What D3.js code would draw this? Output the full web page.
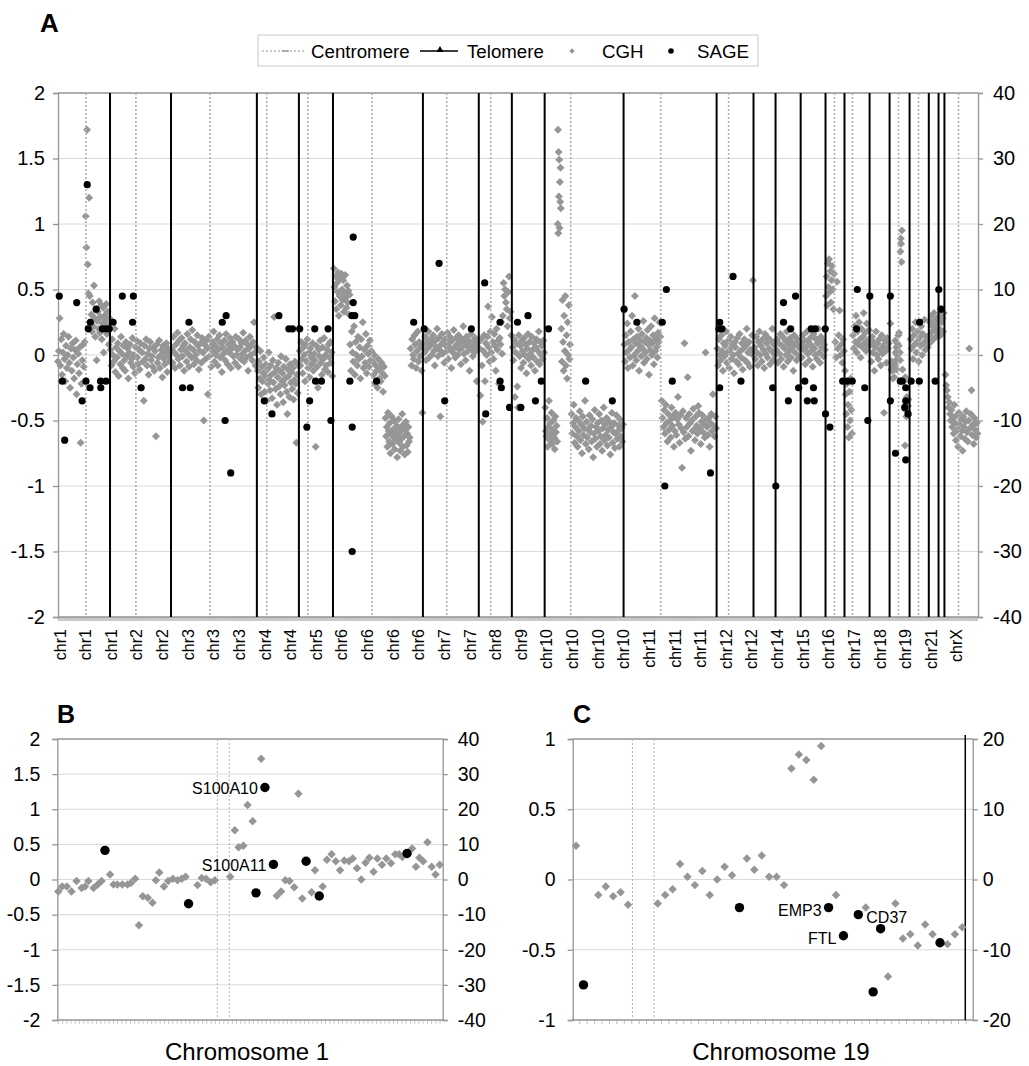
<!DOCTYPE html>
<html>
<head>
<meta charset="utf-8">
<script src="https://cdn.jsdelivr.net/npm/d3@7"></script>
<style>
  body { margin: 0; background: #fff; }
  svg { display: block; font-family: "Liberation Sans", Arial, sans-serif; }
</style>
</head>
<body>
<div id="chart"></div>
<script>
// ---------- panel A data (x = probe index along the genome) ----------
var tickLabels = ["chr1","chr1","chr1","chr2","chr2","chr3","chr3","chr3","chr4","chr4",
  "chr5","chr6","chr6","chr6","chr6","chr7","chr7","chr8","chr9","chr10",
  "chr10","chr10","chr10","chr11","chr11","chr11","chr12","chr12","chr14","chr15",
  "chr16","chr17","chr18","chr19","chr21","chrX"];
var tickEvery = 100;
var probeCount = 3590;

var centromeres = [109, 304, 593, 815, 975, 1225, 1517, 1689, 2001, 2352, 2617, 3030, 3100, 3280, 3358, 3514];
var telomeres = [203, 441, 776, 940, 1073, 1424, 1642, 1771, 1899, 2207, 2570, 2714, 2800, 2898, 2995, 3069, 3167, 3245, 3323, 3398, 3436, 3459];

// CGH log2 ratios, in hundredths, per stretch of probes [first, last, values]
var cghSegments = [
  [0, 104, "-5 3 28 -8 12 -15 2 16 -3 -20 7 -10 0 14 -6 -25 5 -12 9 -2 -18 4 11 -30 -7 1 -14 6 -67 -22 -4 8 -9 10"],
  [108, 124, "106 82 172 69 47 120 45"],
  [128, 201, "25 31 18 40 22 53 28 14 35 -4 26 33 20 41 17 29 38 12 24 36 2 30 21 27 39 16 33 23 8 28"],
  [205, 439, "4 -8 12 0 -5 20 -13 6 -2 9 -16 3 -7 14 1 -10 7 -4 -12 10 -1 5 -18 2 8 -6 -3 13 -9 0 -14 6 11 -2 -7 4 -11 9 -25 2 -5 -35 7 -3 12 -8 1 -15 5 10 -4 -1 -9 6 -12 3 -62 8 -6 -2 11 -10 0 4 -17 7 -3 -7 2 9 -13 5 -1 -5 3"],
  [444, 774, "5 -6 14 2 -10 8 0 17 -3 11 -8 4 13 -1 7 -12 9 3 -5 16 1 -9 6 12 -2 19 4 -7 10 0 -4 15 7 -11 3 9 -6 13 2 -50 8 -3 11 5 -30 14 -1 6 -9 10 3 18 -5 7 0 12 -8 4 15 -2 9 -13 6 1 11 -4 16 3 -7 8 2 13 -10 5 10 -1 7 -6 14 0 4 -9 12 6 -3 9 1 17 -5 3 11 -2 8 -12 5 14 0 7 -4 10 25 2 -8 6"],
  [779, 938, "-12 -25 -5 -18 3 -30 -9 -20 -14 -2 -28 -16 -7 -35 -11 -22 2 -19 -27 -8 -15 -33 -4 -21 29 -13 -26 -10 -38 -17 -6 -24 -12 -30 -1 -20 -14 -36 -9 -23 -18 -3 -28 -45 -11 -16 -32 -7 -21 -13 -26 -10 -34 -19 -5 -22 -67 -15 -29 -8"],
  [943, 1071, "3 -8 10 -3 -14 6 0 -20 8 -5 12 -10 2 -17 5 -2 -7 9 -12 1 -4 -70 7 -9 -25 4 -1 11 -6 -15 6 -3 13 -11 0 -8 4 -13 8 -2 10 -6 2 -16"],
  [1076, 1138, "66 52 41 60 35 55 48 63 30 45 58 38 62 50 42 57 33 47 61 44 36 53 40 49 31 46"],
  [1140, 1223, "8 -12 18 2 -5 22 -15 10 0 -8 14 -3 6 -18 12 -1 25 -10 4 -6 16 -14 7 1 -9 11 -4 3"],
  [1228, 1275, "-5 -15 0 -22 -8 -12 -25 -3 -18 -10 -20 -6 -14 -28 -9 -16"],
  [1278, 1372, "-48 -62 -55 -70 -44 -58 -66 -52 -75 -60 -47 -68 -57 -63 -50 -72 -59 -65 -54 -78 -61 -49 -67 -56 -73 -58 -64 -45 -70 -53 -62 -76 -57 -51 -69 -60 -74 -55 -66 -63"],
  [1376, 1422, "5 -8 12 0 -3 15 8 -10 3 18 -5 10 -1 6 -12 -44"],
  [1427, 1640, "8 2 14 -4 10 5 18 -2 7 12 0 9 15 3 -8 11 6 20 -1 13 4 -47 8 16 1 10 -6 12 7 3 17 -3 9 14 5 -10 11 2 19 6 -2 13 8 0 15 4 10 -7 12 6 22 1 9 -4 14 7 3 11 -12 8 16 5 -1 10 2 13 6 -20 9 4"],
  [1645, 1769, "5 -31 12 -8 -51 3 15 -20 9 0 14 37 6 -5 18 2 29 10 -3 16 7 -12 20 4 11 -22 13 8 25 1 30 55 45 50 40 35 22 48 60 28 33 15"],
  [1774, 1897, "6 -4 12 -32 2 9 -24 -40 15 -1 7 -10 11 3 -6 13 0 8 -14 5 16 -3 10 1 -8 14 4 -2 9 -12 6 12 -5 3 18 -7 10 0 7 -3 11 2"],
  [1901, 1948, "-40 -58 -62 -48 -70 -55 -35 -65 -52 -60 -44 -68 -57 -50 -63 -72 -47 -59 -54 -66"],
  [1950, 1962, "100 172 93 155 121 149 97 132 117 143 112"],
  [1964, 1998, "20 -5 42 10 -12 30 3 45 -8 15 -18 25 0 38 -3 8"],
  [2004, 2205, "-45 -60 -52 -38 -67 -55 -48 -62 -70 -50 -58 -43 -65 -53 -75 -47 -61 -56 -35 -68 -51 -63 -57 -72 -46 -59 -54 -66 -49 -78 -60 -42 -64 -55 -70 -52 -58 -45 -68 -62 -50 -73 -56 -40 -65 -53 -61 -48 -69 -57 -63 -51 -76 -55 -44 -67 -59 -52 -71 -60 -46 -64 -58 -54 -70 -49 -62 -56 -66 -53"],
  [2210, 2350, "8 -5 15 2 24 -10 10 4 -2 18 6 30 -8 12 0 45 9 -4 14 3 20 -12 7 11 -1 16 5 26 -6 10 2 13 -3 19 8 -15 11 4 22 0 9 15 -7 28 3 12 6 -2 17 10 25 14"],
  [2356, 2568, "-35 -48 -55 -42 -60 -38 -52 -66 -45 -57 -50 -63 -40 -54 -47 -70 -58 -44 -61 -49 -32 -53 -67 -46 -56 -86 -43 -59 9 -64 -48 -55 -17 -62 -45 -52 -73 -50 -58 -41 -57 -65 -47 -54 -60 -39 -44 -56 -68 -51 -46 -59 -53 -63 2 -49 -55 -61 -48 -70 -52 -45 -58 -30 -54 -62 -47 -56"],
  [2573, 2712, "5 -8 12 0 -4 15 3 -12 9 -1 7 18 -6 2 11 -10 4 14 -3 8 0 -14 10 6 -5 13 1 -7 16 3 -2 9 -11 5 12 -4 7 20 -6 2 10 -9 4 1 15 57"],
  [2718, 2797, "6 -3 14 2 -8 10 18 0 7 -5 12 4 -10 16 1 9 -2 13 5 -7 11 3 20 -4 8 0"],
  [2803, 2895, "4 12 -6 9 1 16 -3 7 14 -9 5 11 0 18 -5 8 3 13 -2 10 6 -12 15 2 9 -4 12 7 -1 5"],
  [2900, 2993, "8 -2 15 4 11 -7 6 18 1 10 -4 13 3 7 -9 16 5 0 12 -3 9 20 2 -6 14 6 11 -1 8 4"],
  [2997, 3028, "45 60 38 70 52 73 48 64 40 57 68 50 35 62"],
  [3033, 3067, "10 -2 56 5 15 34 0 8 -6 12 3"],
  [3071, 3098, "-12 -30 -45 -22 -55 -38 -63 -28 -50 -18 -42 -60"],
  [3102, 3165, "15 5 22 10 30 2 18 8 25 12 -2 20 6 14 32 9 17 3 24 11 7 19"],
  [3170, 3242, "8 -5 14 2 10 -12 6 18 0 9 -3 12 4 -8 15 1 7 -44 11 3 -6 13 5 9"],
  [3327, 3394, "12 5 20 -3 15 8 25 2 10 18 -5 13 7 22 0 16 9 27 4 11 14 6"],
  [3401, 3433, "15 25 10 30 18 22 12 32 20 27 14 24 17 28"],
  [3439, 3456, "20 30 15 35 25 28 18 32"],
  [3463, 3588, "-15 -23 -27 -32 -40 -36 -45 -50 -42 -55 -48 -60 -38 -52 -65 -46 -57 -70 -44 -53 -62 -49 -58 -73 -47 -55 -64 -51 -43 -59 -66 -50 5 -56 -45 -27 -61 -53 -68 -48 -57 -63 -52 -60"]
];
var chr19First = 3248, chr19Last = 3320;   // chromosome 19 in panel A uses the panel C probes

// SAGE values (right axis) as [probe index, value]
var sageA = [
  [5,9],[73,8],[114,26],[149,7],[118,4],[126,5],[173,4],[187,4],[200,4],[215,5],[251,9],[291,5],[294,9],
  [511,5],[641,5],[656,6],[862,6],[901,4],[915,4],[943,4],[1002,4],[1054,4],
  [17,-4],[26,-13],[94,-7],[109,-4],[125,-5],[167,-5],[166,-4],[187,-4],[324,-5],[486,-5],[516,-5],
  [652,-10],[674,-18],[805,-7],[835,-9],[971,-11],[982,-7],[1005,-4],[1028,-4],[1065,-10],
  [1152,18],[1152,8],[1147,6],[1158,6],[1388,5],[1429,4],[1487,14],[1613,4],[1665,11],[1725,5],
  [1793,5],[1834,6],[1914,4],[2209,7],[2259,5],[2358,5],[2374,10],
  [1139,-4],[1148,-11],[1148,-30],[1243,-4],[1509,-7],[1669,-9],[1725,-4],[1730,-5],[1762,-8],
  [1806,-8],[1863,-7],[1886,-4],[2059,-4],[2163,-7],[2368,-20],[2397,-4],
  [2582,5],[2579,4],[2591,4],[2634,12],[2831,8],[2831,5],[2859,4],[2878,9],[2939,4],[2955,4],
  [2994,4],[3119,10],[3116,4],[3168,9],[3248,9],[3362,5],[3437,10],[3446,7],
  [2582,-5],[2546,-18],[2665,-4],[2789,-5],[2801,-20],[2850,-7],[2890,-5],[2914,-4],[2924,-7],
  [2948,-5],[2951,-7],[2995,-9],[3012,-11],[3062,-4],[3080,-4],[3099,-4],[3148,-5],[3160,-10],
  [3248,-7],[3268,-15],[3287,-4],[3294,-4],[3308,-5],[3308,-7],[3304,-8],[3317,-9],[3308,-16],
  [3329,-4],[3361,-4],[3423,-4]
];

// ---------- panel B data (chromosome 1, x = probe position) ----------
var bCghX = [0,0.9,2,3.1,4.3,5.5,6.3,7.1,8.3,9.3,10.2,12.2,13,13.9,15.1,16.3,17.1,18.1,19,19.9,
  21.1,22.2,23,23.8,24.9,25.9,27,28.1,29.1,30,32.8,33.8,34.8,35.9,36.9,40.5,41.6,42.5,43.6,44.6,
  45.8,47.8,51.5,52.5,53.5,54.5,55.6,56.6,57.5,59.7,60.5,62.3,63.3,64.4,65.4,66.4,67.4,68.5,69.4,70.4,
  71.4,72.4,73.3,74.3,75.2,76.3,77.3,78.4,79.4,80.3,81.1,83.4,84.3,85.1,86,87,88,88.9,89.9];
var bCgh = [-0.17,-0.1,-0.1,-0.17,-0.02,-0.12,-0.1,-0.02,-0.12,-0.07,-0.02,0.07,-0.07,-0.07,-0.07,-0.07,-0.05,0.01,-0.65,-0.24,
  -0.26,-0.33,-0.01,0.1,-0.1,-0.02,0.01,-0.01,0.01,0.04,-0.08,0.02,0.01,-0.04,-0.01,0.04,0.7,0.46,0.48,1.06,
  0.83,1.72,-0.23,-0.17,-0.01,-0.02,-0.11,1.22,-0.27,-0.18,0.13,-0.1,0.28,0.36,0.26,0.13,0.27,0.26,0.3,0.16,
  0,0.24,0.31,0.11,0.3,0.21,0.3,0.23,0.36,0.36,0.32,0.44,0.18,0.31,0.26,0.53,0.18,0.07,0.21];
var bSageX = [11, 30.7, 46.6, 48.7, 50.7, 58.4, 61.5, 82.2];
var bSage = [8.3, -6.9, -3.8, 26.2, 4.3, 5.2, -4.7, 7.4];
var bGenes = [[48.7, 26.2, "S100A10"], [50.7, 4.3, "S100A11"]];
var bCentromeres = [37.5, 40.3];

// ---------- panel C data (chromosome 19, x = probe number) ----------
var cCghX = [0,3,4,5,6,7,11,12,13,14,15,16,17,18,19,20,21,23,24,25,26,27,28,29,30,31,32,33,35,39,42,43,44,45,46,47,48,50,51,52];
var cCgh = [0.24,-0.11,-0.05,-0.12,-0.09,-0.18,-0.17,-0.11,-0.07,0.11,0.02,-0.04,0.06,-0.11,0,0.09,0.03,0.15,0.07,0.17,
  0.02,0.02,-0.04,0.79,0.89,0.85,0.71,0.95,-0.11,-0.2,-0.69,-0.17,-0.42,-0.39,-0.47,-0.32,-0.39,-0.46,-0.39,-0.34];
var cSageX = [1, 22, 34, 36, 38, 40, 41, 49];
var cSage = [-15, -4, -4, -8, -5, -16, -7, -9];
var cGenes = [[34, -4, "EMP3", "left"], [36, -8, "FTL", "left"], [38, -5, "CD37", "right"]];
var cCentromeres = [7.6, 10.5];
var cTelomeres = [52.4];
var cProbeCount = 54;

// ---------- drawing ----------
var svg = d3.select("#chart").append("svg")
  .attr("width", 1029)
  .attr("height", 1066);

var gridColor = "#d9d9d9", axisColor = "#959595", cghColor = "#969696";
var diamond = function(size) { return d3.symbol().type(d3.symbolSquare).size(size)(); };
var fmt = function(d) { return String(+d.toFixed(1)); };

function styleAxis(g, fontSize) {
  g.select(".domain").attr("stroke", axisColor).attr("stroke-width", 1.3);
  g.selectAll(".tick line").attr("stroke", axisColor).attr("stroke-width", 1.3);
  g.selectAll(".tick text").attr("fill", "#000").style("font-size", fontSize + "px")
    .style("font-family", "Liberation Sans, Arial, sans-serif");
}

// generic frame: grid, left/right axes, top border, bottom line with probe ticks
function frame(g, x, y, y2, opt) {
  var x0 = x.range()[0], x1 = x.range()[1];
  g.append("g").selectAll("line")
    .data(opt.grid).enter().append("line")
    .attr("x1", x0).attr("x2", x1)
    .attr("y1", d => y(d)).attr("y2", d => y(d))
    .attr("stroke", gridColor).attr("stroke-width", 1);

  g.append("line").attr("x1", x0).attr("x2", x1)
    .attr("y1", y.range()[1]).attr("y2", y.range()[1])
    .attr("stroke", axisColor).attr("stroke-width", 1.3);

  // probe tick marks along the bottom
  var p = d3.path();
  opt.probeTicks.forEach(function(t) {
    p.moveTo(x(t), y.range()[0]);
    p.lineTo(x(t), y.range()[0] + 4);
  });
  g.append("path").attr("d", p.toString())
    .attr("stroke", opt.probeTickColor).attr("stroke-width", opt.probeTickWidth).attr("fill", "none");

  g.append("line").attr("x1", x0).attr("x2", x1)
    .attr("y1", y.range()[0]).attr("y2", y.range()[0])
    .attr("stroke", axisColor).attr("stroke-width", 1.3);

  g.append("g").attr("transform", `translate(${x0},0)`)
    .call(d3.axisLeft(y).tickValues(opt.leftTicks).tickSize(5).tickPadding(opt.padL).tickFormat(fmt))
    .call(styleAxis, opt.fontSize);

  g.append("g").attr("transform", `translate(${x1},0)`)
    .call(d3.axisRight(y2).tickValues(opt.rightTicks).tickSize(5).tickPadding(opt.padR).tickFormat(fmt))
    .call(styleAxis, opt.fontSize);
}

function vlines(g, x, y, data, kind, extraTop) {
  var isTelo = kind === "telo";
  g.append("g").selectAll("line")
    .data(data).enter().append("line")
    .attr("x1", d => x(d)).attr("x2", d => x(d))
    .attr("y1", y.range()[1] - (extraTop || 0)).attr("y2", y.range()[0])
    .attr("stroke", isTelo ? "#000" : "#b0b0b0")
    .attr("stroke-width", isTelo ? 2 : 1.6)
    .attr("stroke-dasharray", isTelo ? null : "2,2");
}

// ===== Panel A =====
var gA = svg.append("g");
var xA = d3.scaleLinear().domain([0, probeCount]).range([58, 978]);
var yA = d3.scaleLinear().domain([-2, 2]).range([617, 93]);
var yA2 = d3.scaleLinear().domain([-40, 40]).range([617, 93]);

frame(gA, xA, yA, yA2, {
  grid: [-1.5, -1, -0.5, 0, 0.5, 1, 1.5],
  leftTicks: d3.range(-2, 2.01, 0.5),
  rightTicks: d3.range(-40, 40.1, 10),
  probeTicks: d3.range(0, probeCount, 1),
  probeTickColor: "#c4c4c4", probeTickWidth: 0.5,
  padL: 8, padR: 10, fontSize: 20
});

// chromosome labels
gA.append("g").selectAll("text")
  .data(tickLabels).enter().append("text")
  .attr("transform", (d, i) => `translate(${xA(i * tickEvery + 8)},629) rotate(-90)`)
  .attr("text-anchor", "end")
  .attr("dominant-baseline", "central")
  .style("font-size", "16px")
  .text(d => d);

// CGH points
var cghA = [];
cghSegments.forEach(function(seg) {
  var vals = seg[2].trim().split(/\s+/).map(v => +v / 100);
  var step = vals.length > 1 ? (seg[1] - seg[0]) / (vals.length - 1) : 0;
  vals.forEach(function(v, i) { cghA.push([seg[0] + i * step, v]); });
});
cCghX.forEach(function(c, i) {
  cghA.push([chr19First + c * (chr19Last - chr19First) / (cProbeCount - 1), cCgh[i]]);
});

gA.append("g").selectAll("path")
  .data(cghA).enter().append("path")
  .attr("d", diamond(32))
  .attr("transform", d => `translate(${xA(d[0])},${yA(d[1])}) rotate(45)`)
  .attr("fill", cghColor);

vlines(gA, xA, yA, centromeres, "centro");
vlines(gA, xA, yA, telomeres, "telo");

gA.append("g").selectAll("circle")
  .data(sageA).enter().append("circle")
  .attr("cx", d => xA(d[0]))
  .attr("cy", d => yA2(d[1]))
  .attr("r", 3.6)
  .attr("fill", "#000");

svg.append("text").attr("x", 40).attr("y", 32)
  .style("font-size", "26px").style("font-weight", "bold").text("A");

// legend
var lg = svg.append("g");
lg.append("rect").attr("x", 258).attr("y", 35).attr("width", 500).attr("height", 31)
  .attr("fill", "#fff").attr("stroke", "#c8c8c8");
lg.append("line").attr("x1", 262).attr("x2", 305).attr("y1", 51).attr("y2", 51)
  .attr("stroke", "#b8b8b8").attr("stroke-width", 1.3).attr("stroke-dasharray", "2,2");
lg.append("line").attr("x1", 282).attr("x2", 289).attr("y1", 51).attr("y2", 51)
  .attr("stroke", "#999").attr("stroke-width", 1.5);
lg.append("line").attr("x1", 420).attr("x2", 458).attr("y1", 51).attr("y2", 51)
  .attr("stroke", "#000").attr("stroke-width", 1.5);
lg.append("path").attr("d", d3.symbol().type(d3.symbolTriangle).size(22)())
  .attr("transform", "translate(440,50)").attr("fill", "#000");
lg.append("path").attr("d", diamond(14))
  .attr("transform", "translate(572,51) rotate(45)").attr("fill", cghColor);
lg.append("circle").attr("cx", 671).attr("cy", 51).attr("r", 2.8).attr("fill", "#000");
lg.selectAll("text.lgt")
  .data([[311, "Centromere"], [467, "Telomere"], [602, "CGH"], [697, "SAGE"]])
  .enter().append("text")
  .attr("x", d => d[0]).attr("y", 51)
  .attr("dominant-baseline", "central")
  .style("font-size", "18.7px")
  .text(d => d[1]);

// ===== Panel B =====
var gB = svg.append("g");
var xB = d3.scaleLinear().domain([-0.24, 90.6]).range([57.3, 442.7]);
var yB = d3.scaleLinear().domain([-2, 2]).range([1020, 739]);
var yB2 = d3.scaleLinear().domain([-40, 40]).range([1020, 739]);

frame(gB, xB, yB, yB2, {
  grid: [-1.5, -1, -0.5, 0, 0.5, 1, 1.5],
  leftTicks: d3.range(-2, 2.01, 0.5),
  rightTicks: d3.range(-40, 40.1, 10),
  probeTicks: d3.range(0, 91, 1),
  probeTickColor: "#bdbdbd", probeTickWidth: 0.8,
  padL: 12, padR: 10, fontSize: 19.5
});
vlines(gB, xB, yB, bCentromeres, "centro");
gB.selectAll("line").filter(function() { return d3.select(this).attr("stroke-dasharray") === "2,2"; })
  .attr("stroke-width", 1).attr("stroke", "#b4b4b4");

gB.append("g").selectAll("path")
  .data(bCghX).enter().append("path")
  .attr("d", diamond(36))
  .attr("transform", (d, i) => `translate(${xB(d)},${yB(bCgh[i])}) rotate(45)`)
  .attr("fill", cghColor);
gB.append("g").selectAll("circle")
  .data(bSageX).enter().append("circle")
  .attr("cx", d => xB(d))
  .attr("cy", (d, i) => yB2(bSage[i]))
  .attr("r", 4.7)
  .attr("fill", "#000");
gB.append("g").selectAll("text")
  .data(bGenes).enter().append("text")
  .attr("x", d => xB(d[0]) - 7)
  .attr("y", d => yB2(d[1]) + 1)
  .attr("text-anchor", "end")
  .attr("dominant-baseline", "central")
  .style("font-size", "16px")
  .text(d => d[2]);

svg.append("text").attr("x", 57).attr("y", 723)
  .style("font-size", "25px").style("font-weight", "bold").text("B");
svg.append("text").attr("x", 247).attr("y", 1060).attr("text-anchor", "middle")
  .style("font-size", "24px").text("Chromosome 1");

// ===== Panel C =====
var gC = svg.append("g");
var xC = d3.scaleLinear().domain([-0.45, 53.4]).range([572.7, 972.7]);
var yC = d3.scaleLinear().domain([-1, 1]).range([1020, 739]);
var yC2 = d3.scaleLinear().domain([-20, 20]).range([1020, 739]);

frame(gC, xC, yC, yC2, {
  grid: [-0.5, 0, 0.5],
  leftTicks: [-1, -0.5, 0, 0.5, 1],
  rightTicks: [-20, -10, 0, 10, 20],
  probeTicks: d3.range(0.5, cProbeCount - 0.9, 1),
  probeTickColor: "#bdbdbd", probeTickWidth: 1,
  padL: 12, padR: 5, fontSize: 19.5
});
vlines(gC, xC, yC, cCentromeres, "centro");
gC.selectAll("line").filter(function() { return d3.select(this).attr("stroke-dasharray") === "2,2"; })
  .attr("stroke-width", 1).attr("stroke", "#b4b4b4");
vlines(gC, xC, yC, cTelomeres, "telo", 4);
gC.selectAll("line").filter(function() { return d3.select(this).attr("stroke") === "#000"; })
  .attr("stroke-width", 1.5);

gC.append("g").selectAll("path")
  .data(cCghX).enter().append("path")
  .attr("d", diamond(36))
  .attr("transform", (d, i) => `translate(${xC(d)},${yC(cCgh[i])}) rotate(45)`)
  .attr("fill", cghColor);
gC.append("g").selectAll("circle")
  .data(cSageX).enter().append("circle")
  .attr("cx", d => xC(d))
  .attr("cy", (d, i) => yC2(cSage[i]))
  .attr("r", 4.7)
  .attr("fill", "#000");
gC.append("g").selectAll("text")
  .data(cGenes).enter().append("text")
  .attr("x", d => d[3] === "left" ? xC(d[0]) - 7 : xC(d[0]) + 8)
  .attr("y", d => yC2(d[1]) + 3)
  .attr("text-anchor", d => d[3] === "left" ? "end" : "start")
  .attr("dominant-baseline", "central")
  .style("font-size", "16px")
  .text(d => d[2]);

svg.append("text").attr("x", 573).attr("y", 723)
  .style("font-size", "25px").style("font-weight", "bold").text("C");
svg.append("text").attr("x", 781).attr("y", 1060).attr("text-anchor", "middle")
  .style("font-size", "24px").text("Chromosome 19");
</script>
</body>
</html>
